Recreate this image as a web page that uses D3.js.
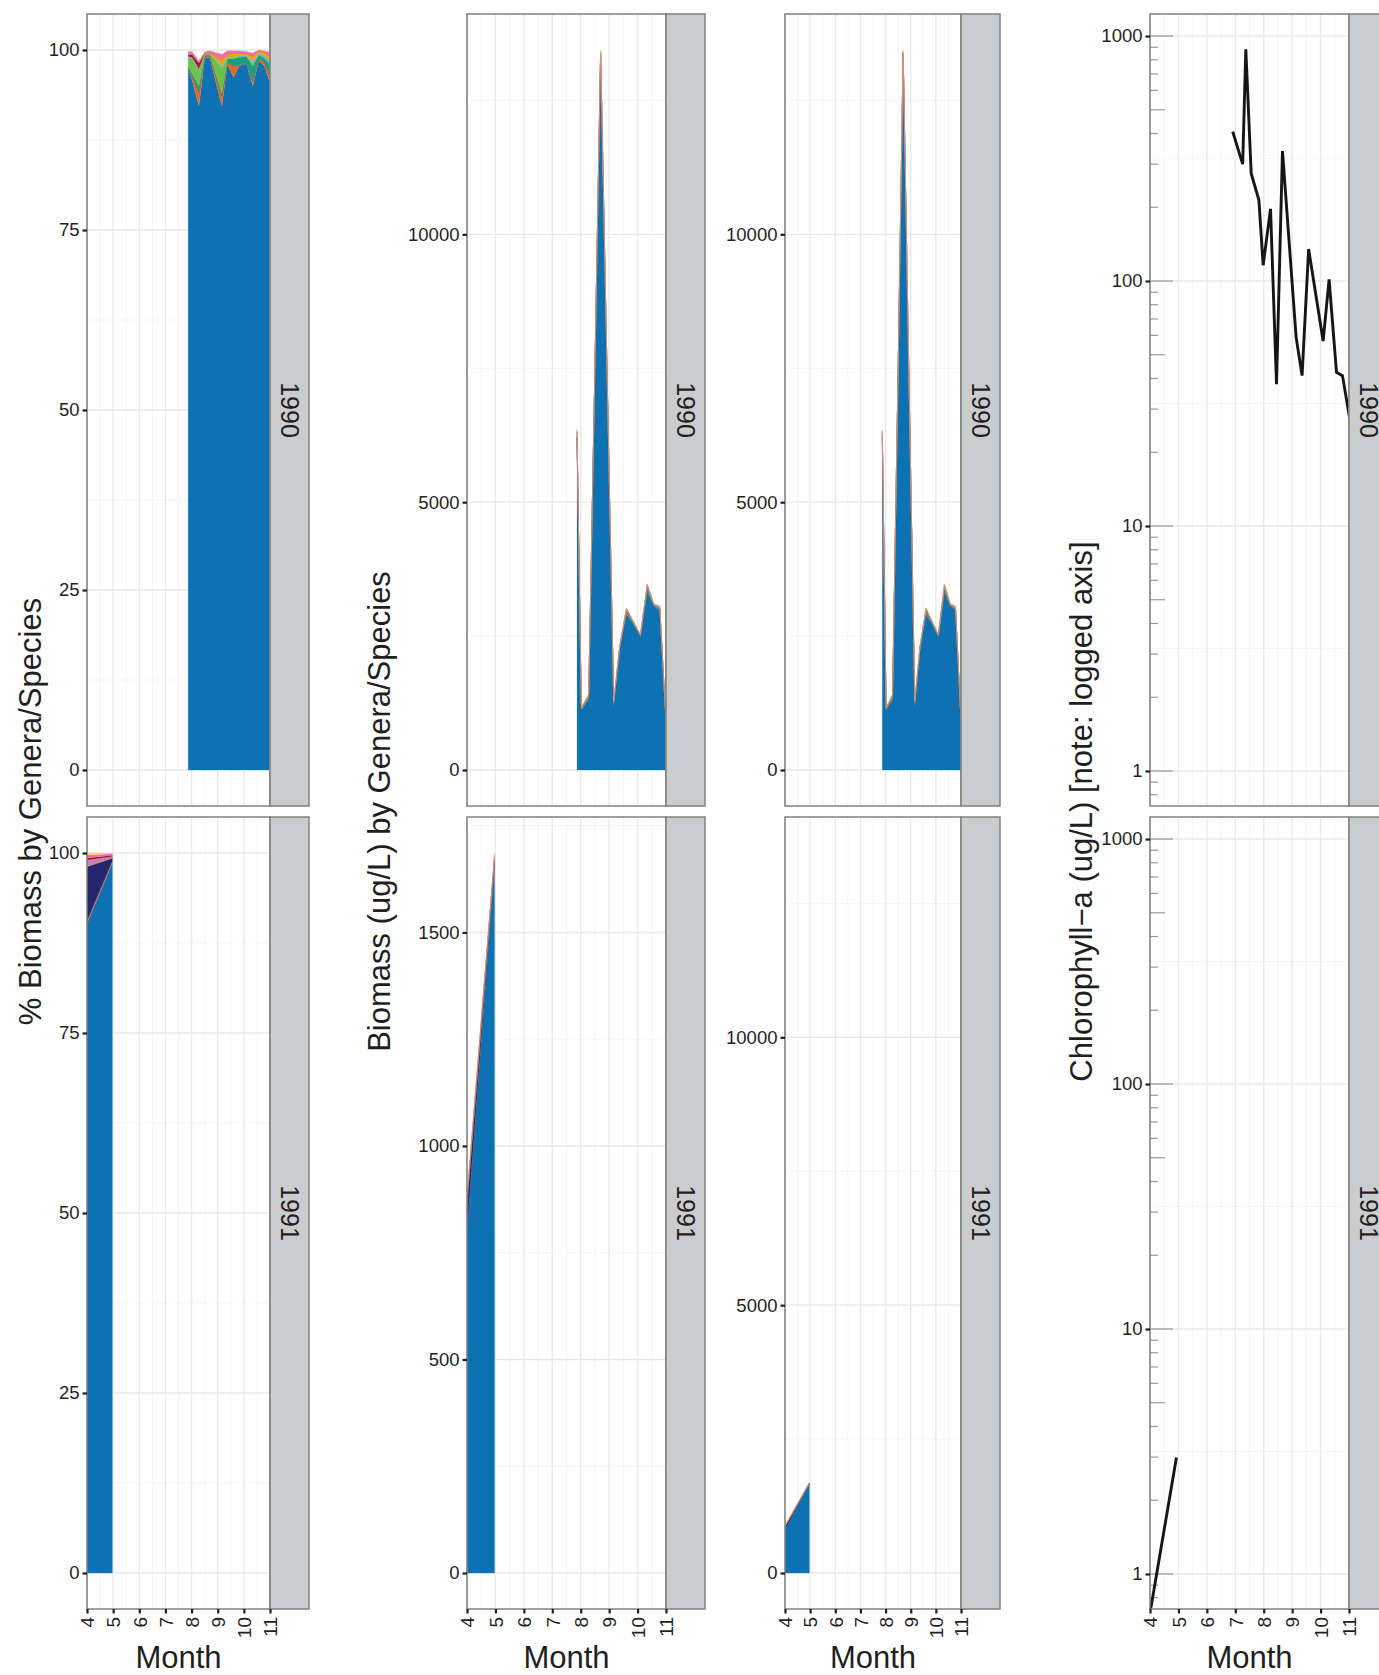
<!DOCTYPE html>
<html><head><meta charset="utf-8">
<script src="https://cdn.jsdelivr.net/npm/d3@7"></script>
<style>
body{margin:0;background:#fff}
text{font-family:"Liberation Sans",Arial,Helvetica,sans-serif}
</style>
</head><body>
<svg id="c" width="1379" height="1675"></svg>
<script>
// ---------------- DATA ----------------
const years = ["1990", "1991"];
const monthTicks = [4, 5, 6, 7, 8, 9, 10, 11];

// sampling dates (decimal month)
const months1990 = [7.87, 8.02, 8.28, 8.51, 8.70, 9.16, 9.37, 9.61, 9.82, 10.10, 10.34, 10.57, 10.78, 11.0];
const months1991 = [3.97, 4.97];

// total biomass (ug/L)
const total1990 = [6361, 1163, 1410, 7800, 13441, 1286, 2311, 3025, 2810, 2528, 3479, 3106, 3056, 889];
const total1991 = [860, 1686];

// taxa (stack order, bottom to top)
const taxa = ["sp01", "sp02", "sp03", "sp04", "sp05", "sp06", "sp07", "sp08", "sp09", "sp10", "sp11"];

// % biomass per taxon, 1990 (one row per taxon, aligned with months1990)
const pct1990 = [
  [97.5, 95.8, 92.2, 99.0, 98.9, 92.2, 98.0, 96.2, 97.8, 98.1, 95.0, 98.5, 97.8, 95.5],
  [0.0, 0.6, 2.0, 0.2, 0.3, 1.5, 0.3, 1.6, 0.1, 0.1, 0.7, 0.3, 0.6, 1.0],
  [0, 0, 0, 0, 0, 0, 0, 0, 0, 0, 0, 0, 0, 0],
  [0.1, 0.4, 0.8, 0.1, 0.1, 0.3, 0.5, 1.0, 1.1, 0.9, 2.1, 0.5, 0.5, 1.5],
  [1.2, 2.0, 2.2, 0.1, 0.2, 3.5, 0.2, 0.1, 0.0, 0.0, 0.2, 0.0, 0.0, 0.0],
  [0.3, 0.2, 0.2, 0.1, 0.0, 0.2, 0.0, 0.1, 0.2, 0.2, 0.3, 0.3, 0.3, 0.4],
  [0.0, 0.0, 0.0, 0.1, 0.1, 1.0, 0.4, 0.6, 0.4, 0.2, 0.9, 0.3, 0.5, 0.9],
  [0, 0, 0, 0, 0, 0, 0, 0, 0, 0, 0, 0, 0, 0],
  [0.2, 0.4, 0.8, 0.0, 0.0, 0.0, 0.0, 0.0, 0.0, 0.0, 0.0, 0.0, 0.0, 0.0],
  [0.5, 0.4, 0.3, 0.2, 0.3, 0.7, 0.5, 0.3, 0.3, 0.3, 0.4, 0.1, 0.2, 0.4],
  [0, 0, 0, 0, 0, 0, 0, 0, 0, 0, 0, 0, 0, 0]
];
// % biomass per taxon, 1991
const pct1991 = [
  [90.0, 98.6],
  [0.3, 0.3],
  [7.8, 0.4],
  [0, 0],
  [0, 0],
  [0, 0],
  [0, 0],
  [0.9, 0.2],
  [0.3, 0.2],
  [0.4, 0.2],
  [0.3, 0.1]
];

// chlorophyll-a (ug/L)
const chlMonths1990 = [6.91, 7.26, 7.37, 7.56, 7.83, 7.98, 8.24, 8.45, 8.66, 9.14, 9.35, 9.58, 10.09, 10.30, 10.56, 10.77, 11.10];
const chl1990 = [407, 300, 883, 275, 214, 116, 197, 37.9, 339, 58.9, 41.1, 135, 56.9, 101.6, 42.4, 41.1, 24.3];
const chlMonths1991 = [3.95, 4.93];
const chl1991 = [0.64, 2.99];

// axis tick values
const pctTicks = [0, 25, 50, 75, 100];
const bioTicksTop = [0, 5000, 10000];
const bioTicksBottom = [0, 500, 1000, 1500];
const chlTicks = [1, 10, 100, 1000];

const taxaColors = ["#0D72B4", "#DE6A2A", "#25246E", "#18A078", "#6CC24A", "#56B4E9", "#E8A41C", "#CF7FB0", "#9E1F2A", "#F26DAE", "#F0D77A"];

// ---------------- BUILD ----------------
function buildRows(months, pct, total) {
  return months.map((m, i) => {
    const r = {month: m};
    const s = d3.sum(pct, p => p[i]);
    taxa.forEach((k, j) => { r[k] = total ? total[i] * pct[j][i] / s : pct[j][i]; });
    return r;
  });
}
const stack = d3.stack().keys(taxa);
const pctStack = {"1990": stack(buildRows(months1990, pct1990, null)), "1991": stack(buildRows(months1991, pct1991, null))};
const bioStack = {"1990": stack(buildRows(months1990, pct1990, total1990)), "1991": stack(buildRows(months1991, pct1991, total1991))};
const chlData = {
  "1990": chlMonths1990.map((m, i) => ({month: m, v: chl1990[i]})),
  "1991": chlMonths1991.map((m, i) => ({month: m, v: chl1991[i]}))
};
function stackMax(st) { return d3.max(st[st.length - 1], d => d[1]); }

// ---------------- LAYOUT ----------------
const svg = d3.select("#c");
const cols = [{x0: 87, x1: 270}, {x0: 467, x1: 666}, {x0: 785, x1: 961}, {x0: 1150, x1: 1349}];
const rows = [{y0: 14, y1: 806}, {y0: 817, y1: 1609}];
const stripW = 39;
const borderCol = "#808080";
const txtCol = "#1f1f1f";
let clipId = 0;

function linDomain(max) { return [-0.05 * max, 1.05 * max]; }
const globalBioMax = d3.max(years, y => stackMax(bioStack[y]));

function drawPanel(ci, ri, cfg) {
  const c = cols[ci], r = rows[ri];
  const g = svg.append("g");
  const x = d3.scaleLinear().domain([4, 11]).range([c.x0, c.x1]);
  const y = cfg.y.range([r.y1, r.y0]);
  // grid
  const grid = g.append("g");
  const xMinor = d3.range(4.5, 11, 1);
  grid.selectAll(".xm").data(xMinor).enter().append("line")
    .attr("x1", d => x(d)).attr("x2", d => x(d)).attr("y1", r.y0).attr("y2", r.y1)
    .attr("stroke", "#F4F4F4").attr("stroke-width", 0.9);
  cfg.yMinor.forEach(v => {
    if (v > y.domain()[0] && v < y.domain()[1])
      grid.append("line").attr("x1", c.x0).attr("x2", c.x1).attr("y1", y(v)).attr("y2", y(v))
        .attr("stroke", "#F4F4F4").attr("stroke-width", 0.9);
  });
  grid.selectAll(".xM").data(monthTicks).enter().append("line")
    .attr("x1", d => x(d)).attr("x2", d => x(d)).attr("y1", r.y0).attr("y2", r.y1)
    .attr("stroke", "#E9E9E9").attr("stroke-width", 1.4);
  cfg.ticks.forEach(v => {
    grid.append("line").attr("x1", c.x0).attr("x2", c.x1).attr("y1", y(v)).attr("y2", y(v))
      .attr("stroke", "#E9E9E9").attr("stroke-width", 1.4);
  });
  // clip
  const id = "clip" + (clipId++);
  svg.append("clipPath").attr("id", id).append("rect")
    .attr("x", c.x0).attr("y", r.y0).attr("width", c.x1 - c.x0).attr("height", r.y1 - r.y0);
  const marks = g.append("g").attr("clip-path", `url(#${id})`);
  if (cfg.stack) {
    const area = d3.area().x(d => x(d.data.month)).y0(d => y(d[0])).y1(d => y(d[1]));
    marks.selectAll("path.a").data(cfg.stack).enter().append("path")
      .attr("d", area).attr("fill", (d, i) => taxaColors[i])
      .attr("stroke", (d, i) => taxaColors[i]).attr("stroke-width", 0.2);
  }
  if (cfg.logticks) {
    for (let e = -1; e <= 3; e++) {
      for (let m = 1; m <= 9; m++) {
        const v = m * Math.pow(10, e);
        if (v < y.domain()[0] || v > y.domain()[1]) continue;
        const len = m === 1 ? 23 : (m === 5 ? 15 : 8);
        marks.append("line").attr("x1", c.x0).attr("x2", c.x0 + len).attr("y1", y(v)).attr("y2", y(v))
          .attr("stroke", "#9a9a9a").attr("stroke-width", 1.2);
      }
    }
  }
  if (cfg.line) {
    const line = d3.line().x(d => x(d.month)).y(d => y(d.v));
    marks.append("path").datum(cfg.line).attr("d", line)
      .attr("fill", "none").attr("stroke", "#161616").attr("stroke-width", 2.9).attr("stroke-linejoin", "miter");
  }
  // border
  g.append("rect").attr("x", c.x0).attr("y", r.y0).attr("width", c.x1 - c.x0).attr("height", r.y1 - r.y0)
    .attr("fill", "none").attr("stroke", borderCol).attr("stroke-width", 1.5);
  // strip
  g.append("rect").attr("x", c.x1).attr("y", r.y0).attr("width", stripW).attr("height", r.y1 - r.y0)
    .attr("fill", "#CBCCCE").attr("stroke", borderCol).attr("stroke-width", 1.5);
  const sx = c.x1 + stripW / 2, sy = (r.y0 + r.y1) / 2;
  g.append("text").attr("transform", `translate(${sx},${sy}) rotate(90)`)
    .attr("text-anchor", "middle").attr("dy", "0.36em").attr("font-size", 25).attr("fill", txtCol)
    .text(years[ri]);
  // y axis
  const ya = g.append("g").attr("transform", `translate(${c.x0},0)`)
    .call(d3.axisLeft(y).tickValues(cfg.ticks).tickSize(4.5).tickPadding(3).tickFormat(d3.format("d")));
  ya.select(".domain").remove();
  ya.selectAll(".tick line").attr("stroke", "#1f1f1f").attr("stroke-width", 2.2);
  ya.selectAll(".tick text").attr("font-size", 18.5).attr("fill", txtCol).attr("font-family", "Liberation Sans, Arial, sans-serif");
  // x axis (bottom row only)
  if (ri === 1) {
    const xa = g.append("g").attr("transform", `translate(0,${r.y1})`)
      .call(d3.axisBottom(x).tickValues(monthTicks).tickSize(4.5).tickFormat(d3.format("d")));
    xa.select(".domain").remove();
    xa.selectAll(".tick line").attr("stroke", "#1f1f1f").attr("stroke-width", 2.2);
    xa.selectAll(".tick text").attr("font-size", 19).attr("fill", txtCol)
      .attr("font-family", "Liberation Sans, Arial, sans-serif")
      .attr("transform", "rotate(-90)").attr("text-anchor", "end")
      .attr("x", -8).attr("y", 0).attr("dy", "0.36em");
    g.append("text").attr("x", (c.x0 + c.x1) / 2).attr("y", 1668).attr("text-anchor", "middle")
      .attr("font-size", 31).attr("fill", txtCol).text("Month");
  }
}

function minorOf(ticks) {
  const step = ticks[1] - ticks[0];
  const out = [];
  for (let v = ticks[0] - step / 2; v <= ticks[ticks.length - 1] + step; v += step) out.push(v);
  return out;
}

years.forEach((yr, ri) => {
  // column 1: % biomass
  drawPanel(0, ri, {y: d3.scaleLinear().domain(linDomain(100)), ticks: pctTicks, yMinor: minorOf(pctTicks), stack: pctStack[yr]});
  // column 2: biomass (free scale per year)
  const bt = ri === 0 ? bioTicksTop : bioTicksBottom;
  drawPanel(1, ri, {y: d3.scaleLinear().domain(linDomain(stackMax(bioStack[yr]))), ticks: bt, yMinor: minorOf(bt), stack: bioStack[yr]});
  // column 3: biomass (fixed scale)
  drawPanel(2, ri, {y: d3.scaleLinear().domain(linDomain(globalBioMax)), ticks: bioTicksTop, yMinor: minorOf(bioTicksTop), stack: bioStack[yr]});
  // column 4: chlorophyll (log)
  drawPanel(3, ri, {y: d3.scaleLog().domain([Math.pow(10, -0.143), Math.pow(10, 3.09)]), ticks: chlTicks,
    yMinor: [0.316, 3.16, 31.6, 316], logticks: true, line: chlData[yr]});
});

// y axis titles
function yTitle(xc, text) {
  svg.append("text").attr("transform", `translate(${xc},811.5) rotate(-90)`)
    .attr("text-anchor", "middle").attr("dy", "0.35em").attr("font-size", 31).attr("fill", txtCol).text(text);
}
yTitle(30, "% Biomass by Genera/Species");
yTitle(379, "Biomass (ug/L) by Genera/Species");
yTitle(1081, "Chlorophyll\u2212a (ug/L) [note: logged axis]");
</script>
</body></html>
